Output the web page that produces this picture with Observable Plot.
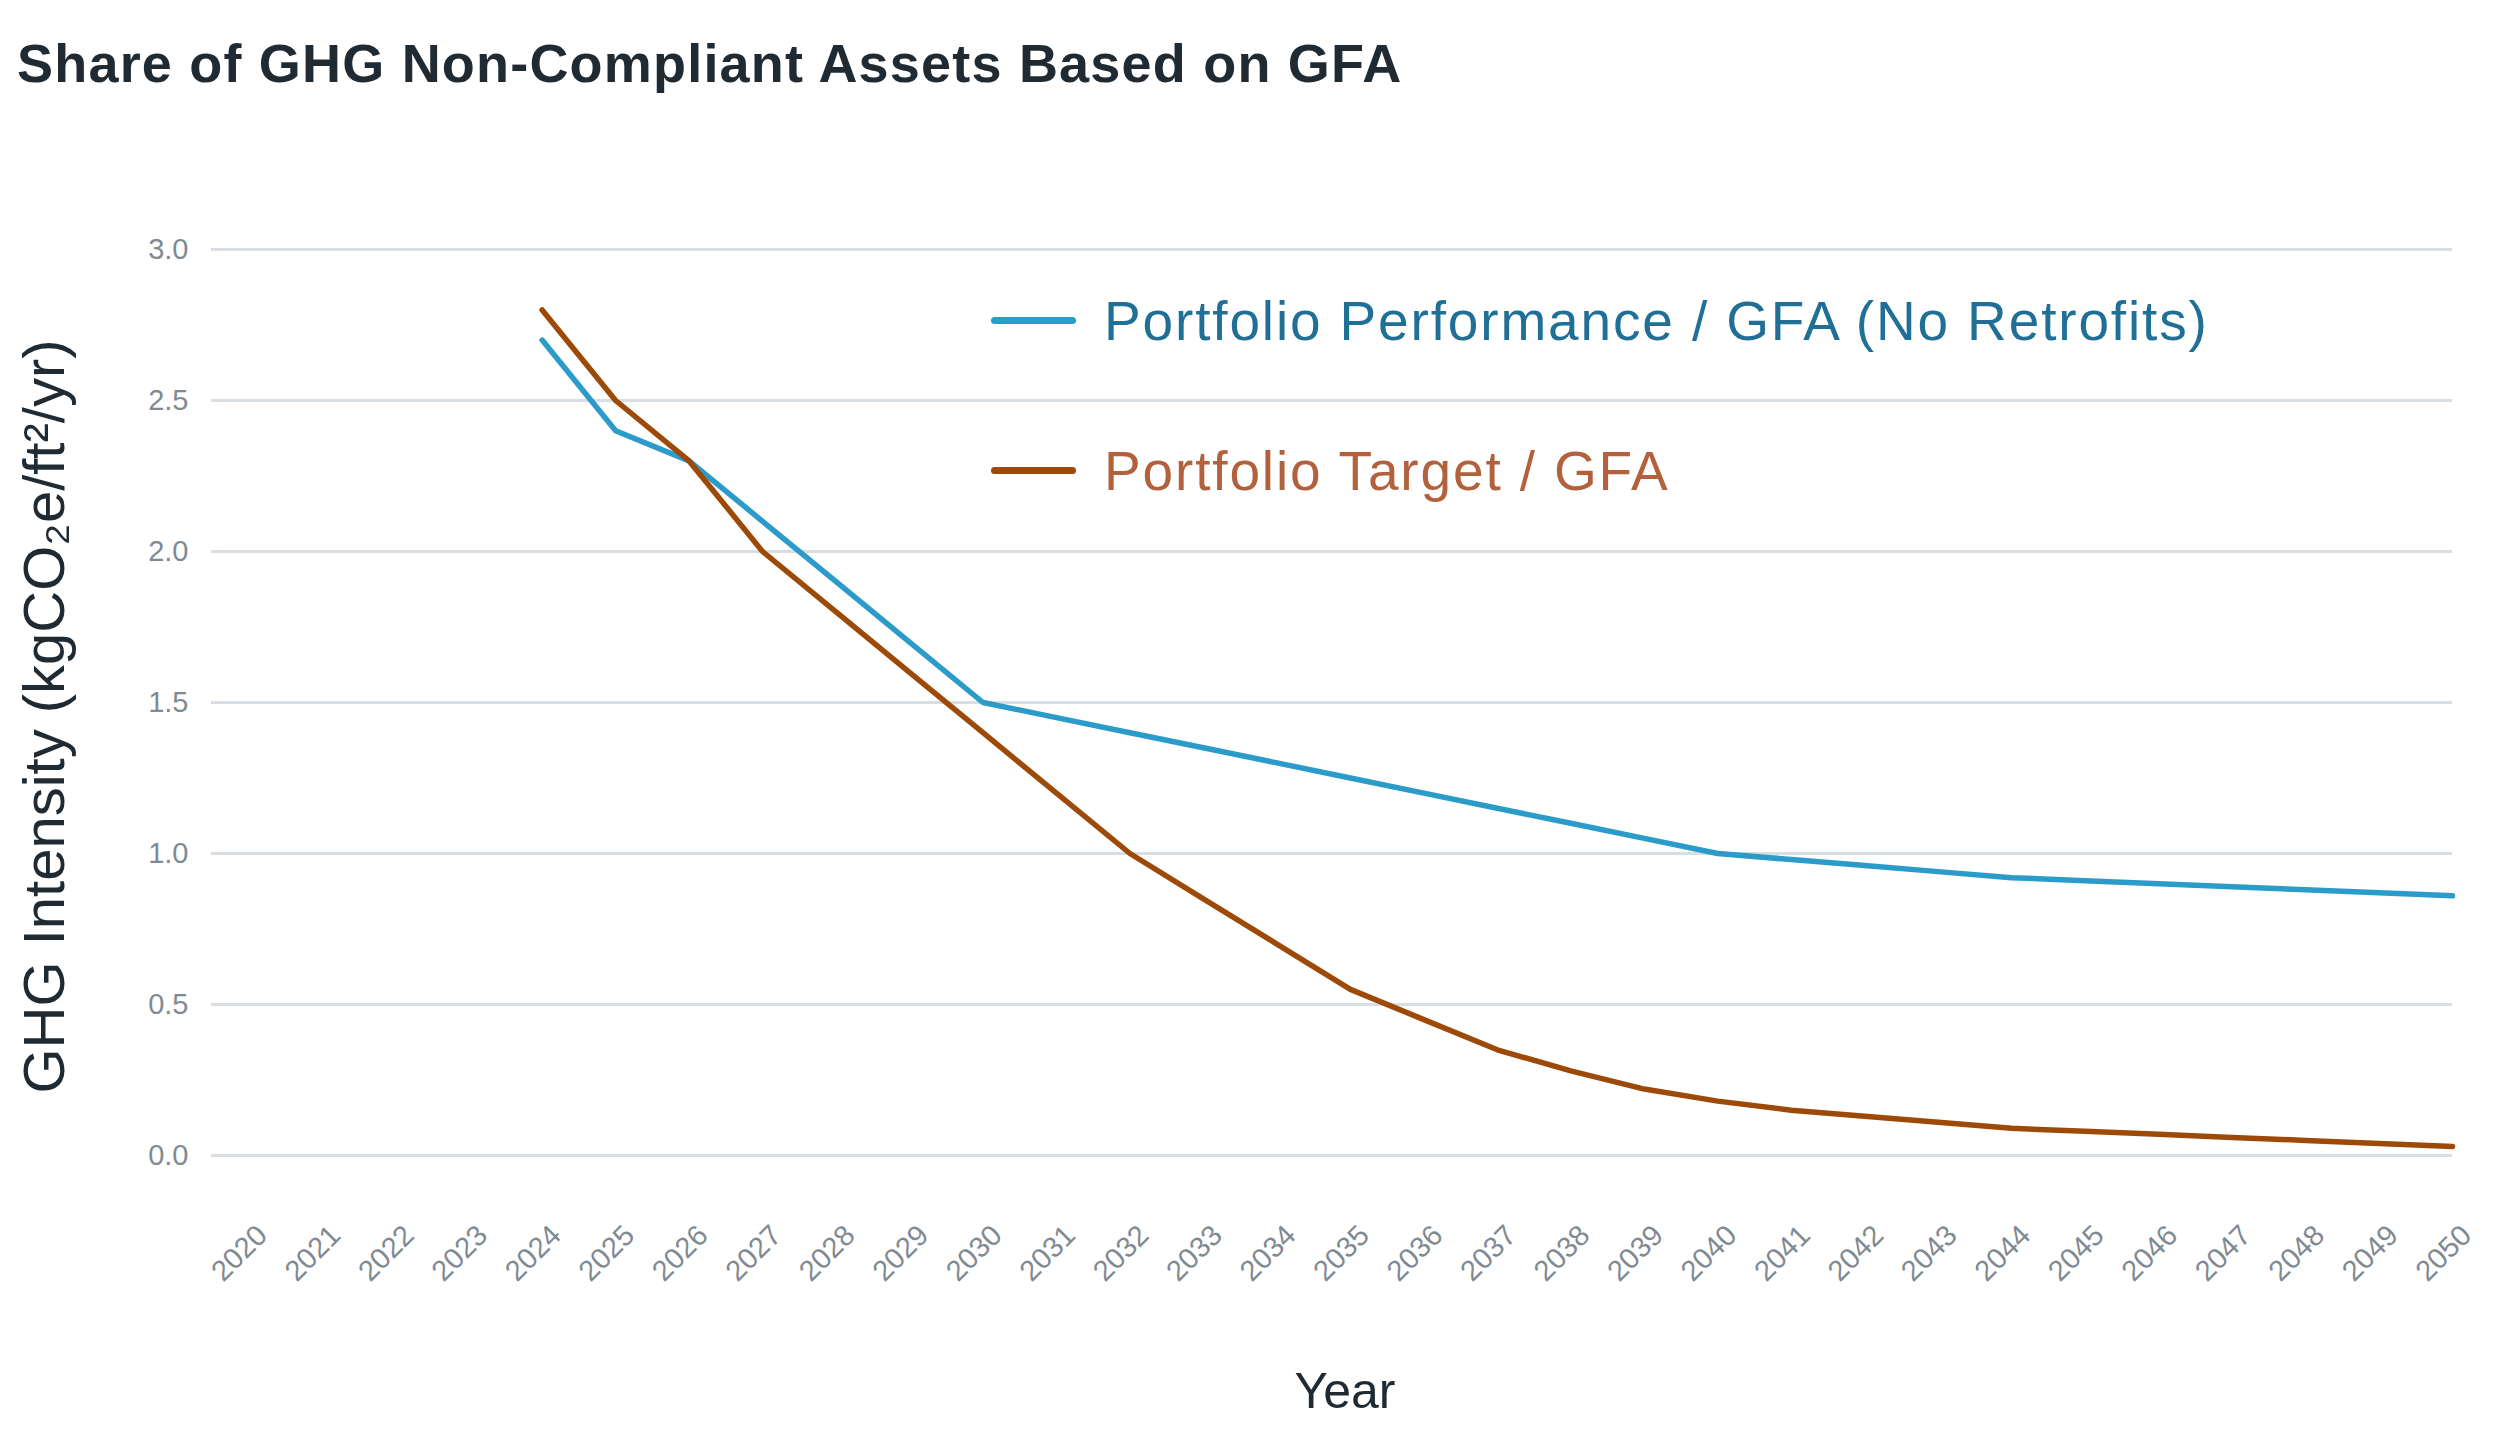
<!DOCTYPE html>
<html>
<head>
<meta charset="utf-8">
<script src="https://cdn.jsdelivr.net/npm/d3@7"></script>
<script src="https://cdn.jsdelivr.net/npm/@observablehq/plot@0.6"></script>
<style>
  html, body { margin: 0; padding: 0; background: #ffffff; }
  body { width: 2500px; height: 1438px; position: relative; overflow: hidden; font-family: "Liberation Sans", Arial, sans-serif; }
  #title { position: absolute; left: 17px; top: 36px; font-size: 54px; line-height: 54px; font-weight: 700; color: #1f2a33; white-space: nowrap; letter-spacing: 1.2px; }
  #chart { position: absolute; left: 0; top: 0; }
  .legend-item { position: absolute; left: 991px; height: 55px; white-space: nowrap; }
  .legend-line { position: absolute; left: 0; width: 85px; height: 7px; border-radius: 4px; }
  .legend-text { position: absolute; left: 113px; top: 0; font-size: 55px; line-height: 55px; letter-spacing: 1.85px; }
  g[aria-label="ytitle"] text { letter-spacing: 2.6px; }
</style>
</head>
<body>
<div id="title"></div>
<div id="chart"></div>
<div id="legend"></div>
<script>
const titleText = "Share of GHG Non-Compliant Assets Based on GFA";
const yTitle = "GHG Intensity (kgCO\u2082e/ft\u00B2/yr)";
const xTitle = "Year";
const tickYears = [2020,2021,2022,2023,2024,2025,2026,2027,2028,2029,2030,2031,2032,2033,2034,2035,2036,2037,2038,2039,2040,2041,2042,2043,2044,2045,2046,2047,2048,2049,2050];
const yTicks = [0, 0.5, 1.0, 1.5, 2.0, 2.5, 3.0];
const years = [2024,2025,2026,2027,2028,2029,2030,2031,2032,2033,2034,2035,2036,2037,2038,2039,2040,2041,2042,2043,2044,2045,2046,2047,2048,2049,2050];
const performance = [2.7,2.4,2.3,2.1,1.9,1.7,1.5,1.45,1.4,1.35,1.3,1.25,1.2,1.15,1.1,1.05,1.0,0.98,0.96,0.94,0.92,0.91,0.9,0.89,0.88,0.87,0.86];
const target = [2.8,2.5,2.3,2.0,1.8,1.6,1.4,1.2,1.0,0.85,0.7,0.55,0.45,0.35,0.28,0.22,0.18,0.15,0.13,0.11,0.09,0.08,0.07,0.06,0.05,0.04,0.03];
const seriesNames = ["Portfolio Performance / GFA (No Retrofits)", "Portfolio Target / GFA"];
const lineColors = ["#2b9bc9", "#9d4a08"];
const textColors = ["#1f6f96", "#b3603c"];

const perfData = years.map((yr, i) => ({year: yr, value: performance[i]}));
const targData = years.map((yr, i) => ({year: yr, value: target[i]}));

document.getElementById("title").textContent = titleText;

const chart = Plot.plot({
  width: 2500,
  height: 1438,
  marginLeft: 211,
  marginRight: 48,
  marginTop: 249,
  marginBottom: 283,
  style: {fontFamily: "'Liberation Sans', Arial, sans-serif", background: "transparent"},
  x: {domain: [2019.5, 2050], axis: null},
  y: {domain: [0, 3], axis: null},
  marks: [
    Plot.gridY(yTicks, {stroke: "#d9dee2", strokeOpacity: 1, strokeWidth: 3}),
    Plot.axisY(yTicks, {tickSize: 0, tickPadding: 23, fontSize: 29, fill: "#7f8a93", tickFormat: d3.format(".1f"), label: null}),
    Plot.text(tickYears, {x: d => d, frameAnchor: "bottom", rotate: -45, textAnchor: "end", lineAnchor: "middle", dx: 14, dy: 75, fontSize: 29, fill: "#7f8a93", text: d => String(d)}),
    Plot.line(perfData, {x: "year", y: "value", stroke: lineColors[0], strokeWidth: 5.5, strokeLinejoin: "round", strokeLinecap: "round"}),
    Plot.line(targData, {x: "year", y: "value", stroke: lineColors[1], strokeWidth: 5.5, strokeLinejoin: "round", strokeLinecap: "round"}),
    Plot.text([yTitle], {frameAnchor: "left", rotate: -90, lineAnchor: "middle", textAnchor: "middle", dx: -166, dy: 14, fontSize: 58, fill: "#1f2a33", text: d => d, ariaLabel: "ytitle"}),
    Plot.text([xTitle], {frameAnchor: "bottom", lineAnchor: "bottom", textAnchor: "middle", dx: 13, dy: 252, fontSize: 50, fill: "#1f2a33", text: d => d})
  ]
});
document.getElementById("chart").appendChild(chart);

const legend = document.getElementById("legend");
const legendBaselines = [341, 491];
const legendLineY = [321, 471];
seriesNames.forEach((name, i) => {
  const item = document.createElement("div");
  item.className = "legend-item";
  const top = legendBaselines[i] - 46.6;
  item.style.top = top + "px";
  const ln = document.createElement("div");
  ln.className = "legend-line";
  ln.style.background = lineColors[i];
  ln.style.top = (legendLineY[i] - top - 3.5) + "px";
  const tx = document.createElement("div");
  tx.className = "legend-text";
  tx.style.color = textColors[i];
  tx.textContent = name;
  item.appendChild(ln);
  item.appendChild(tx);
  legend.appendChild(item);
});
</script>
</body>
</html>
